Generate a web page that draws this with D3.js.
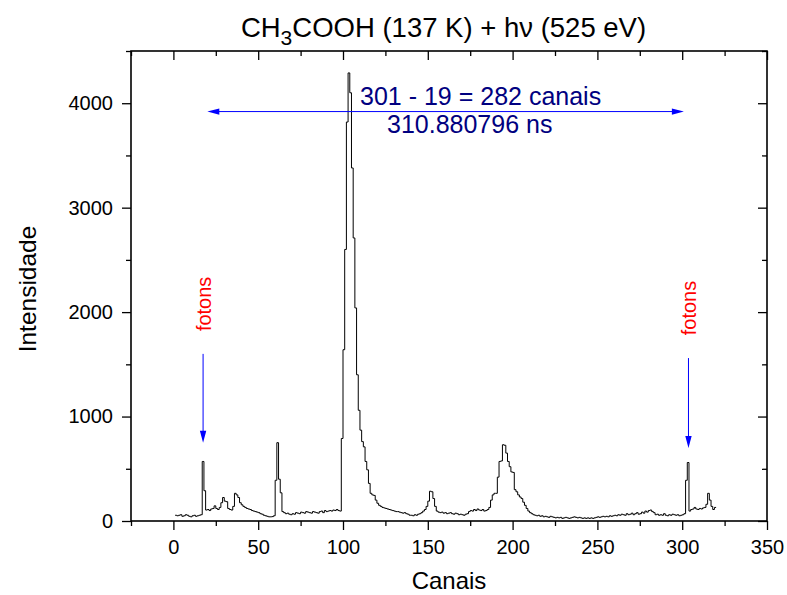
<!DOCTYPE html>
<html>
<head>
<meta charset="utf-8">
<script src="https://cdn.jsdelivr.net/npm/d3@7"></script>
<style>
  html, body { margin: 0; padding: 0; background: #fff; }
  svg { display: block; font-family: "Liberation Sans", Arial, sans-serif; }
</style>
</head>
<body>
<div id="chart"></div>
<script>
// counts per channel, channel numbering starts at 1
const firstChannel = 1;
const counts = [
  55, 50, 55, 60, 45, 50, 60, 55, 45, 40, 50, 55, 45, 50, 55, 60,
  570, 290,
  105, 110, 100, 115, 120, 145, 120, 110, 130, 175, 225, 190, 185, 120, 110, 105, 140, 265,
  250, 225, 175, 155, 140, 130, 120, 115, 110, 100, 95, 90, 85, 80, 70, 65, 55, 50, 45, 40, 40, 42, 50,
  390, 750, 400, 270, 90,
  80, 70, 75, 65, 60, 70, 65, 80, 75, 70, 85, 80, 75, 90, 85, 80, 75, 90, 85, 80, 75, 90, 95, 80,
  100, 90, 95, 100, 95, 105, 100, 110, 100, 95,
  790, 1640, 2600, 3820, 4290, 4100, 3380, 2710, 2040, 1400, 1060, 870, 760, 710, 570, 490, 360, 265, 250, 245,
  200, 170, 150, 140, 130, 125, 120, 115, 110, 105, 100, 95, 90, 90, 85, 80, 75, 80, 70, 65, 55,
  55, 50, 60, 55, 65, 70, 80, 95, 110, 140, 190, 285, 280, 215, 140, 95, 85, 80, 85, 75, 80, 70, 75,
  80, 70, 65, 75, 70, 60, 65, 60, 55, 65, 70, 90, 100, 95, 110, 100, 115, 105, 100, 110, 95, 100,
  110, 130, 200, 250, 265, 265, 420, 570, 575, 730, 725, 650, 570, 520, 470, 465, 300, 280, 250, 230,
  215, 180, 150, 120, 95, 80, 70, 60,
  55, 50, 55, 45, 50, 40, 45, 40, 35, 45, 40, 35, 30,
  35, 30, 35, 25, 30, 35, 30, 25, 30, 35,
  40, 35, 30, 35, 30, 25, 30, 25, 30, 25,
  30, 25, 30, 35, 40, 35, 40, 45, 40, 45,
  40, 50, 45, 50, 55, 50, 60, 55, 65, 60,
  55, 70, 60, 65, 75, 60, 70, 80, 65, 70,
  85, 75, 95, 85, 100, 105, 90, 80, 60, 65,
  55, 60, 55, 70, 55, 50, 60, 55, 65, 60,
  55, 60, 50, 55, 60, 70,
  390, 560, 95, 110, 115, 130, 115, 110, 120, 115, 125, 130, 160, 265, 200, 140, 110, 130, 130
];

const xMajorTicks = [0, 50, 100, 150, 200, 250, 300, 350];
const xMinorTicks = [-25, 25, 75, 125, 175, 225, 275, 325];
const yMajorTicks = [0, 1000, 2000, 3000, 4000];
const yMinorTicks = [500, 1500, 2500, 3500, 4500];

// annotations
const photonChannels = [17.5, 303.7];
const photonArrowTop = [1600, 1560];
const photonArrowTip = [750, 700];
const spanStart = 20;
const spanEnd = 301;
const spanLevel = 3920;
const spanLabel = "301 - 19 = 282 canais";
const spanTime = "310.880796 ns";

function drawChart() {
  const width = 787;
  const height = 595;
  const plot = { left: 131, right: 767, top: 51, bottom: 521 };
  const majorLen = 9;
  const minorLen = 5;

  const svg = d3.select("#chart")
    .append("svg")
    .attr("width", width)
    .attr("height", height);

  const x = d3.scaleLinear().domain([-25, 350]).range([plot.left, plot.right]);
  const y = d3.scaleLinear().domain([0, 4500]).range([plot.bottom, plot.top]);

  const points = counts.map((v, i) => ({ ch: firstChannel + i, v }));

  const line = d3.line()
    .x((d) => x(d.ch))
    .y((d) => y(d.v))
    .curve(d3.curveStepAfter);

  svg.append("path")
    .datum(points)
    .attr("fill", "none")
    .attr("stroke", "#000")
    .attr("stroke-width", 1)
    .attr("d", line);

  // axes: bottom/left outward ticks with labels, top/right inward ticks
  function styleAxis(g) {
    g.select(".domain").remove();
    g.selectAll(".tick line").attr("stroke", "#000").attr("stroke-width", 1.3);
    g.selectAll(".tick text").attr("fill", "#000").style("font-size", "20px")
      .style("font-family", "'Liberation Sans', Arial, sans-serif");
  }

  svg.append("g")
    .attr("transform", `translate(0,${plot.bottom})`)
    .call(d3.axisBottom(x).tickValues(xMajorTicks).tickSize(majorLen).tickPadding(10).tickFormat(d3.format("d")))
    .call(styleAxis);
  svg.append("g")
    .attr("transform", `translate(0,${plot.bottom})`)
    .call(d3.axisBottom(x).tickValues(xMinorTicks).tickSize(minorLen).tickFormat(""))
    .call(styleAxis);
  svg.append("g")
    .attr("transform", `translate(0,${plot.top})`)
    .call(d3.axisTop(x).tickValues(xMajorTicks).tickSize(-majorLen).tickFormat(""))
    .call(styleAxis);
  svg.append("g")
    .attr("transform", `translate(0,${plot.top})`)
    .call(d3.axisTop(x).tickValues(xMinorTicks).tickSize(-minorLen).tickFormat(""))
    .call(styleAxis);

  svg.append("g")
    .attr("transform", `translate(${plot.left},0)`)
    .call(d3.axisLeft(y).tickValues(yMajorTicks).tickSize(majorLen).tickPadding(9).tickFormat(d3.format("d")))
    .call(styleAxis);
  svg.append("g")
    .attr("transform", `translate(${plot.left},0)`)
    .call(d3.axisLeft(y).tickValues(yMinorTicks).tickSize(minorLen).tickFormat(""))
    .call(styleAxis);
  svg.append("g")
    .attr("transform", `translate(${plot.right},0)`)
    .call(d3.axisRight(y).tickValues(yMajorTicks).tickSize(-majorLen).tickFormat(""))
    .call(styleAxis);
  svg.append("g")
    .attr("transform", `translate(${plot.right},0)`)
    .call(d3.axisRight(y).tickValues(yMinorTicks).tickSize(-minorLen).tickFormat(""))
    .call(styleAxis);

  svg.append("rect")
    .attr("x", plot.left)
    .attr("y", plot.top)
    .attr("width", plot.right - plot.left)
    .attr("height", plot.bottom - plot.top)
    .attr("fill", "none")
    .attr("stroke", "#000")
    .attr("stroke-width", 1.6);

  // title
  const title = svg.append("text")
    .attr("x", 443.5)
    .attr("y", 37)
    .attr("text-anchor", "middle")
    .style("font-size", "27.5px")
    .attr("fill", "#000");
  title.append("tspan").text("CH");
  title.append("tspan").attr("dy", 8).style("font-size", "21px").text("3");
  title.append("tspan").attr("dy", -8).text("COOH (137 K) + h\u03bd (525 eV)");

  svg.append("text")
    .attr("x", 449)
    .attr("y", 589)
    .attr("text-anchor", "middle")
    .style("font-size", "24px")
    .text("Canais");

  svg.append("text")
    .attr("transform", `translate(36,${(plot.top + plot.bottom) / 2 + 3}) rotate(-90)`)
    .attr("text-anchor", "middle")
    .style("font-size", "24.5px")
    .text("Intensidade");

  // arrows
  const arrowColor = "#0000ff";
  const headLen = 12;
  const headHalf = 3.2;

  const spanY = y(spanLevel);
  const x0 = x(spanStart);
  const x1 = x(spanEnd);
  svg.append("line")
    .attr("x1", x0 + headLen - 1).attr("x2", x1 - headLen + 1)
    .attr("y1", spanY).attr("y2", spanY)
    .attr("stroke", arrowColor).attr("stroke-width", 1);
  svg.append("path")
    .attr("d", `M${x0},${spanY}L${x0 + headLen},${spanY - headHalf}L${x0 + headLen},${spanY + headHalf}Z`)
    .attr("fill", arrowColor);
  svg.append("path")
    .attr("d", `M${x1},${spanY}L${x1 - headLen},${spanY - headHalf}L${x1 - headLen},${spanY + headHalf}Z`)
    .attr("fill", arrowColor);

  svg.append("text")
    .attr("x", 360)
    .attr("y", 105)
    .style("font-size", "25px")
    .attr("fill", "#000080")
    .text(spanLabel);
  svg.append("text")
    .attr("x", 387)
    .attr("y", 133)
    .style("font-size", "25px")
    .attr("fill", "#000080")
    .text(spanTime);

  photonChannels.forEach((ch, i) => {
    const px = x(ch);
    const yTop = y(photonArrowTop[i]);
    const yTip = y(photonArrowTip[i]);
    svg.append("line")
      .attr("x1", px).attr("x2", px)
      .attr("y1", yTop).attr("y2", yTip - headLen + 1)
      .attr("stroke", arrowColor).attr("stroke-width", 1);
    svg.append("path")
      .attr("d", `M${px},${yTip}L${px - headHalf},${yTip - headLen}L${px + headHalf},${yTip - headLen}Z`)
      .attr("fill", arrowColor);
    svg.append("text")
      .attr("transform", `translate(${px + 8},${yTop - 50}) rotate(-90)`)
      .attr("text-anchor", "middle")
      .style("font-size", "20px")
      .attr("fill", "#ff0000")
      .text("fotons");
  });
}

drawChart();
</script>
</body>
</html>
